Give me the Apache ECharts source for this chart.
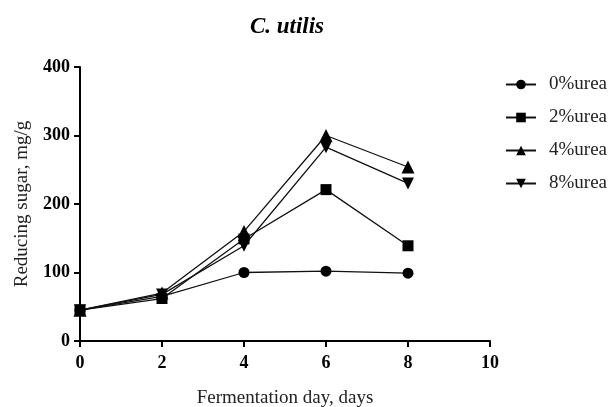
<!DOCTYPE html>
<html><head><meta charset="utf-8">
<script src="https://cdn.jsdelivr.net/npm/echarts@6/dist/echarts.min.js"></script>
<style>html,body{margin:0;padding:0;background:#fff}#c{width:608px;height:407px}</style>
</head><body><div id="c"></div>
<script>
var days = [0, 2, 4, 6, 8];
var seriesNames = ['0%urea', '2%urea', '4%urea', '8%urea'];
var urea0 = [45, 65, 100, 102, 99];
var urea2 = [45, 62, 149, 221, 139];
var urea4 = [45, 70, 160, 300, 254];
var urea8 = [45, 68, 139, 283, 230];
var symbols = ['circle', 'rect', 'triangle', 'path://M0,0 L10,0 L5,9 Z'];
var values = [urea0, urea2, urea4, urea8];
var F = '"Liberation Serif","Times New Roman",serif';
var chart = echarts.init(document.getElementById('c'));
var series = seriesNames.map(function (n, i) {
  return {
    name: n, type: 'line',
    data: days.map(function (d, j) { return [d, values[i][j]]; }),
    symbol: symbols[i], symbolSize: i === 2 ? 13 : (i === 3 ? 12 : 11),
    showAllSymbol: true,
    lineStyle: { color: '#111', width: 1.3 },
    itemStyle: { color: '#000' },
    z: 10 - i
  };
});
chart.setOption({
  animation: false,
  title: { text: 'C. utilis', left: 282, top: 11, textAlign: 'center',
    textStyle: { fontFamily: F, fontStyle: 'italic', fontWeight: 'bold', fontSize: 23, color: '#000' } },
  legend: {
    orient: 'vertical', left: 500, top: 70, itemGap: 14, itemWidth: 30, itemHeight: 12,
    textStyle: { fontFamily: F, fontSize: 19, color: '#222', padding: [0, 0, 0, 8] },
    data: seriesNames
  },
  grid: { left: 80, right: 118, top: 67, bottom: 66, containLabel: false, outerBoundsMode: 'none' },
  xAxis: {
    type: 'value', min: 0, max: 10, interval: 2,
    name: 'Fermentation day, days', nameLocation: 'middle', nameGap: 48,
    nameTextStyle: { fontFamily: F, fontSize: 19, color: '#222' },
    axisLine: { lineStyle: { color: '#000', width: 2 } },
    axisTick: { length: 6, lineStyle: { color: '#000', width: 2 } },
    axisLabel: { fontFamily: F, fontWeight: 'bold', fontSize: 18, color: '#000', margin: 13 },
    splitLine: { show: false }
  },
  yAxis: {
    type: 'value', min: 0, max: 400, interval: 100,
    name: 'Reducing sugar, mg/g', nameLocation: 'middle', nameGap: 48,
    nameTextStyle: { fontFamily: F, fontSize: 19, color: '#222' },
    axisLine: { show: true, lineStyle: { color: '#000', width: 2 } },
    axisTick: { show: true, length: 6, lineStyle: { color: '#000', width: 2 } },
    axisLabel: { fontFamily: F, fontWeight: 'bold', fontSize: 18, color: '#000', margin: 10 },
    splitLine: { show: false }
  },
  series: series
});
</script></body></html>
